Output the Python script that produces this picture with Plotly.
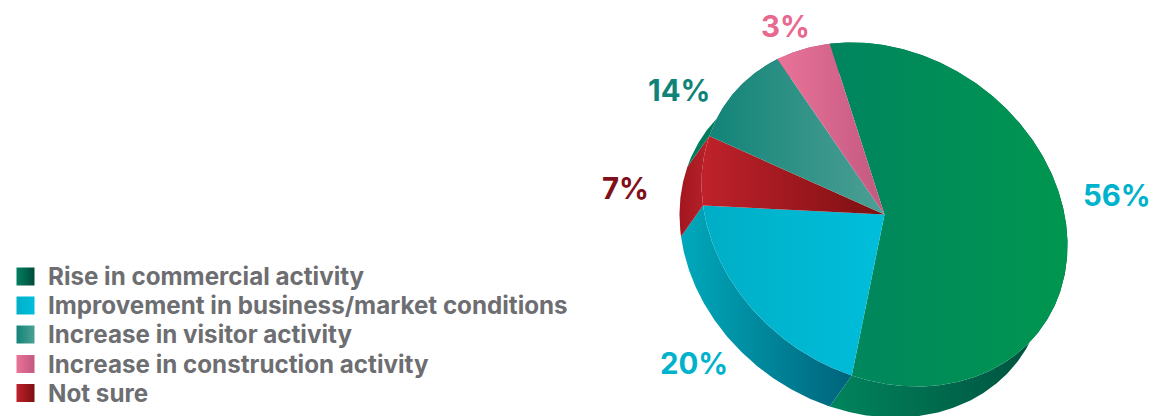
import numpy as np
import plotly.graph_objects as go

# Slices, clockwise from the top-left edge of the green slice (drawn shares)
slice_names = ["Rise in commercial activity", "Improvement in business/market conditions",
               "Not sure", "Increase in visitor activity", "Increase in construction activity"]
slice_shares = [57.7, 20.1, 6.7, 10.4, 5.1]
printed_labels = ["56%", "20%", "7%", "14%", "3%"]
legend_order = ["Rise in commercial activity", "Improvement in business/market conditions",
                "Increase in visitor activity", "Increase in construction activity", "Not sure"]

# Styles
top_colors = [("#00855f", "#00964f"), ("#00aec6", "#00bedb"), ("#c0222b", "#7c0f12"),
              ("#128478", "#4d9f94"), ("#ea7399", "#c25880")]
side_colors = [("#008a60", "#004a3a"), ("#00a9bc", "#00637a"), ("#a3161e", "#b8222b"),
               ("#00805f", "#006a55"), ("#d0607f", "#b04f70")]
label_colors = ["#00b2cb", "#00b2cb", "#7f1019", "#0f8378", "#e8688f"]
label_xy = [(1117, 195), (694, 363), (625, 188), (679, 90), (785, 26)]
legend_colors = [("#00805f", "#004a3a"), ("#00b0c8", "#00bedb"), ("#128478", "#4d9f94"),
                 ("#ea7399", "#c25880"), ("#c0222b", "#7c0f12")]
legend_rows_y = [276.5, 305.5, 334.5, 364, 393]
FONT = "Inter"
W, H = 1153, 416
CX, CY = 884.5, 214.5
# Tilted ellipse of the top face: unit circle through a symmetric matrix
M11, M12, M22 = 182.3, 16.0, 171.3
DX, DY = -22, 31
START = -12.4

shares = np.array(slice_shares, dtype=float)
edges = START + np.concatenate([[0], np.cumsum(shares / shares.sum() * 360)])


def arc(a0, a1, dx=0, dy=0):
    t = np.radians(np.linspace(a0, a1, max(int(abs(a1 - a0)) * 2, 4)))
    ux, uy = np.sin(t), -np.cos(t)
    return CX + M11 * ux + M12 * uy + dx, CY + M12 * ux + M22 * uy + dy


def grad(c):
    return dict(type="horizontal", colorscale=[[0, c[0]], [1, c[1]]])


fig = go.Figure()

# Extruded rim: a band between the top arc and the same arc shifted
for i, name in enumerate(slice_names):
    x1, y1 = arc(edges[i], edges[i + 1])
    x2, y2 = arc(edges[i + 1], edges[i], DX, DY)
    fig.add_trace(go.Scatter(x=np.concatenate([x1, x2]), y=np.concatenate([y1, y2]),
                             mode="lines", line=dict(width=0), fill="toself",
                             fillgradient=grad(side_colors[i]),
                             hoverinfo="skip", showlegend=False))

# Top faces
for i, name in enumerate(slice_names):
    x1, y1 = arc(edges[i], edges[i + 1])
    fig.add_trace(go.Scatter(x=np.concatenate([[CX], x1, [CX]]), y=np.concatenate([[CY], y1, [CY]]),
                             mode="lines", line=dict(width=0), fill="toself",
                             fillgradient=grad(top_colors[i]), name=name,
                             hoverinfo="name", showlegend=False))

# Legend: swatches and text
for name, c, y in zip(legend_order, legend_colors, legend_rows_y):
    fig.add_trace(go.Scatter(x=[25.5], y=[y], mode="markers", name=name, showlegend=False,
                             hoverinfo="name",
                             marker=dict(symbol="square", size=18, color=c[0], line=dict(width=0),
                                         gradient=dict(type="horizontal", color=c[1]))))
    fig.add_annotation(x=46, y=y, text=name, showarrow=False, xanchor="left",
                       font=dict(family=FONT, size=24.2, color="#6d6e71", weight=700))

for txt, col, (x, y) in zip(printed_labels, label_colors, label_xy):
    fig.add_annotation(x=x, y=y, text=txt, showarrow=False,
                       font=dict(family=FONT, size=29.4, color=col, weight=700))

fig.update_layout(
    width=W, height=H, margin=dict(l=0, r=0, t=0, b=0), showlegend=False,
    paper_bgcolor="white", plot_bgcolor="white",
    xaxis=dict(range=[0, W], visible=False, fixedrange=True),
    yaxis=dict(range=[H, 0], visible=False, fixedrange=True),
)
fig.write_html("out.html", config=dict(displayModeBar=False),
               post_script="document.body.style.margin='0';")
